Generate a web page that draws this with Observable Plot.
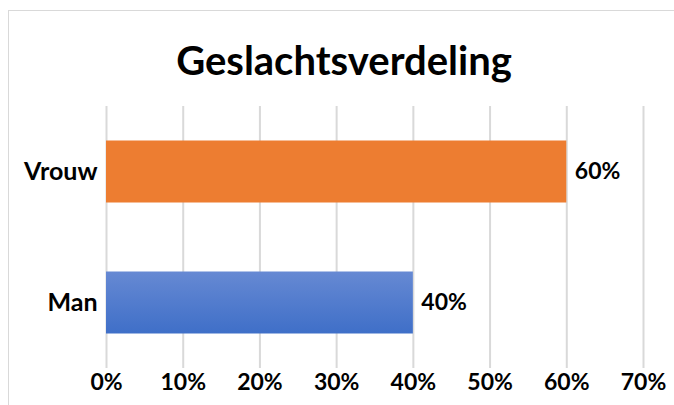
<!DOCTYPE html>
<html>
<head>
<meta charset="utf-8">
<script src="https://cdn.jsdelivr.net/npm/d3@7"></script>
<script src="https://cdn.jsdelivr.net/npm/@observablehq/plot@0.6"></script>
<style>
  html, body { margin: 0; padding: 0; background: #fff; }
  #wrap { position: relative; width: 674px; height: 405px; overflow: hidden; }
  #border { position: absolute; left: 8px; top: 10px; width: 720px; height: 440px; border: 1.5px solid #d9d9d9; box-sizing: border-box; pointer-events: none; }
  #chart { position: absolute; left: 0; top: 0; }
</style>
</head>
<body>
<div id="wrap"><div id="chart"></div><div id="border"></div></div>
<script>
const title = "Geslachtsverdeling";
const categories = ["Vrouw", "Man"];
const values = [0.60, 0.40];
const colors = ["#ED7D31", "url(#blueGrad)"];
const ticks = [0, 0.1, 0.2, 0.3, 0.4, 0.5, 0.6, 0.7];

const data = categories.map((c, i) => ({cat: c, value: values[i], fill: colors[i]}));
const font = "Lato, 'Open Sans', sans-serif";

const defs = () => {
  const ns = "http://www.w3.org/2000/svg";
  const d = document.createElementNS(ns, "defs");
  const g = document.createElementNS(ns, "linearGradient");
  g.setAttribute("id", "blueGrad");
  g.setAttribute("x1", "0"); g.setAttribute("y1", "0");
  g.setAttribute("x2", "0"); g.setAttribute("y2", "1");
  [["0%", "#6689d3"], ["100%", "#3f6fc8"]].forEach(([o, c]) => {
    const s = document.createElementNS(ns, "stop");
    s.setAttribute("offset", o); s.setAttribute("stop-color", c);
    g.appendChild(s);
  });
  d.appendChild(g);
  return d;
};

const chart = Plot.plot({
  width: 674,
  height: 405,
  marginTop: 106,
  marginBottom: 37,
  marginLeft: 106,
  marginRight: 31,
  style: {fontFamily: font, background: "transparent"},
  x: {domain: [0, 0.7], axis: null},
  y: {domain: categories, padding: 0, axis: null},
  marks: [
    defs,
    Plot.ruleX(ticks, {stroke: "#d9d9d9", strokeWidth: 2}),
    Plot.barX(data, {x: "value", y: "cat", fill: "fill", insetTop: 34.5, insetBottom: 34.5}),
    Plot.text(data, {x: "value", y: "cat", text: d => d3.format(".0%")(d.value), textAnchor: "start", dx: 8, fontSize: 23, fontWeight: "bold", fill: "#000"}),
    Plot.text(data, {x: 0, y: "cat", text: "cat", textAnchor: "end", dx: -9, fontSize: 25, fontWeight: "bold", fill: "#000"}),
    Plot.text(ticks, {x: d => d, frameAnchor: "bottom", dy: 21, text: d => d3.format(".0%")(d), fontSize: 23, fontWeight: "bold", fill: "#000"}),
    Plot.text([title], {frameAnchor: "top", lineAnchor: "middle", dx: -31, dy: -44, text: d => d, fontSize: 40, fontWeight: "bold", fill: "#000"})
  ]
});
document.getElementById("chart").appendChild(chart);
</script>
</body>
</html>
